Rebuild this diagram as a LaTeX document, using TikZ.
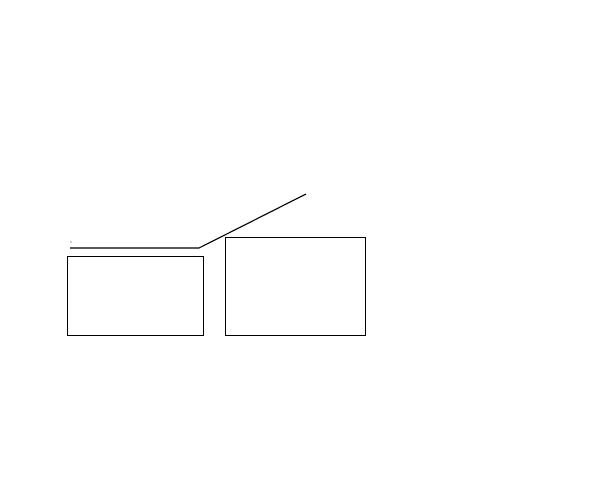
\documentclass[tikz,border=0pt]{standalone}
\usepackage{tikz}
\usetikzlibrary{positioning,calc}

\begin{document}
\begin{tikzpicture}[x=1pt,y=-1pt,semithick]
  \tikzstyle{panel}=[draw,rectangle,inner sep=0pt,line width=0.8pt]
  \tikzstyle{speck}=[circle,fill=gray!70,inner sep=0pt,minimum size=1.6pt]
  \useasboundingbox (0,0) rectangle (604,483);
  \node[panel,minimum width=136pt,minimum height=79pt] (lbox) at (135,295.5) {};
  \node[panel,minimum width=140pt,minimum height=98pt] (rbox) at (295,286) {};
  \node[speck] (dot) at (71,242) {};
  \coordinate (start) at (70,248);
  \coordinate (bend) at (199,248);
  \coordinate (tip) at (306,194);
  \draw[line width=1.1pt] (start) -- (bend) -- (tip);
\end{tikzpicture}
\end{document}
